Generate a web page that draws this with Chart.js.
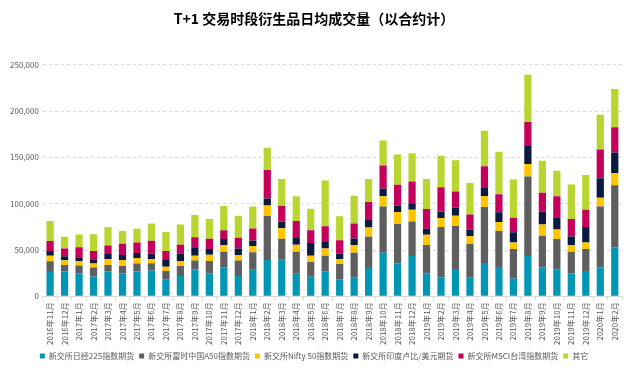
<!DOCTYPE html>
<html>
<head>
<meta charset="utf-8">
<script src="https://cdn.jsdelivr.net/npm/chart.js@4"></script>
<style>
  html, body { margin: 0; padding: 0; background: #fff; }
  #wrap { width: 640px; height: 370px; position: relative; }
</style>
</head>
<body>
<div id="wrap"><canvas id="myChart"></canvas></div>
<script>
var months = ['2016年11月','2016年12月',
  '2017年1月','2017年2月','2017年3月','2017年4月','2017年5月','2017年6月','2017年7月','2017年8月','2017年9月','2017年10月','2017年11月','2017年12月',
  '2018年1月','2018年2月','2018年3月','2018年4月','2018年5月','2018年6月','2018年7月','2018年8月','2018年9月','2018年10月','2018年11月','2018年12月',
  '2019年1月','2019年2月','2019年3月','2019年4月','2019年5月','2019年6月','2019年7月','2019年8月','2019年9月','2019年10月','2019年11月','2019年12月',
  '2020年1月','2020年2月']

var nikkei = [27500,26800,24600,21400,26800,24600,26800,27900,18600,22100,28900,24600,31400,22100,
  28600,39300,39600,24300,21100,26800,18600,20700,30700,47100,35400,43600,
  25000,20700,29600,20000,36100,31800,19300,43600,31100,29300,24600,27500,31400,52900]
var a50 = [10400,7100,8600,9700,7100,8300,8600,7800,8900,10800,9700,13600,16800,16500,
  18900,47500,22500,23900,16000,17100,16400,26400,33600,50000,42800,37100,
  30400,54300,46400,36800,60400,38900,31800,85700,34300,32500,23600,23600,65700,67100]
var nifty = [6000,5000,5000,4300,6100,6400,6000,4700,4600,5300,5300,6800,7200,6000,
  6800,11400,11500,7500,6800,7900,5400,8300,10000,11100,12900,12900,
  11000,9600,11100,8200,11800,9600,7100,13600,12100,10300,7200,7100,9300,13200]
var inr = [5000,4300,3900,4600,5700,5300,5400,5700,7200,8200,9000,6100,6400,7200,
  6100,7500,7100,7200,13600,7800,6000,7100,8900,8200,7100,6800,
  6500,7100,8900,7100,8600,10400,11100,20300,13900,13300,9200,16800,21100,22200]
var msci = [11000,8600,10800,8900,9300,12200,11400,13900,9600,9300,11000,11000,9600,11400,
  12800,30700,17200,18500,13900,16100,14300,16100,18600,25000,22200,23500,
  21400,26100,17100,16400,23600,19600,15700,25000,20400,22800,19000,18600,31100,27100]
var others = [21400,12500,13900,18200,20000,13900,14700,18600,20700,21800,24000,21500,26100,23900,
  23900,24000,28900,26800,23200,49300,25700,30000,25000,26800,32800,30700,
  32500,33900,33900,33900,38200,45700,41100,51100,34600,27500,37100,37500,37500,41400]

var txt = '#595959'
var fam = '"Noto Sans CJK SC", "Noto Sans", sans-serif'

const ctx = document.getElementById('myChart');

new Chart(ctx, {
  type: 'bar',
  data: {
    labels: months,
    datasets: [
      { label: '新交所日经225指数期货', data: nikkei, backgroundColor: '#0096B4' },
      { label: '新交所富时中国A50指数期货', data: a50, backgroundColor: '#5F5F5F' },
      { label: '新交所Nifty 50指数期货', data: nifty, backgroundColor: '#FFC600' },
      { label: '新交所印度卢比/美元期货', data: inr, backgroundColor: '#0C1A42' },
      { label: '新交所MSCI台湾指数期货', data: msci, backgroundColor: '#C5005A' },
      { label: '其它', data: others, backgroundColor: '#B9D52F' }
    ]
  },
  options: {
    responsive: true,
    maintainAspectRatio: false,
    animation: false,
    layout: { padding: { left: 6, right: 18, top: 4, bottom: 0 } },
    datasets: { bar: { barPercentage: 0.5, categoryPercentage: 1.0, borderWidth: 0 } },
    plugins: {
      title: {
        display: true,
        text: 'T+1 交易时段衍生品日均成交量（以合约计）',
        color: '#000',
        font: { family: fam, size: 14, weight: 'bold' },
        padding: { top: 6, bottom: 38 }
      },
      legend: {
        position: 'bottom',
        labels: {
          boxWidth: 5, boxHeight: 5, padding: 5,
          color: txt,
          font: { family: fam, size: 8 }
        }
      },
      tooltip: { enabled: false }
    },
    scales: {
      x: {
        stacked: true,
        grid: { display: true, drawOnChartArea: false, offset: true, color: '#d9d9d9', tickLength: 4 },
        border: { color: '#d9d9d9' },
        ticks: { color: txt, font: { family: fam, size: 8 }, minRotation: 90, maxRotation: 90, autoSkip: false, padding: 2 }
      },
      y: {
        stacked: true,
        min: 0, max: 250000,
        ticks: { stepSize: 50000, color: txt, font: { family: fam, size: 8 }, padding: 4,
          callback: function(v) { return v.toLocaleString('en-US') } },
        grid: { color: '#d9d9d9', drawTicks: false },
        border: { display: false, dash: [3, 3] }
      }
    }
  }
});
</script>
</body>
</html>
